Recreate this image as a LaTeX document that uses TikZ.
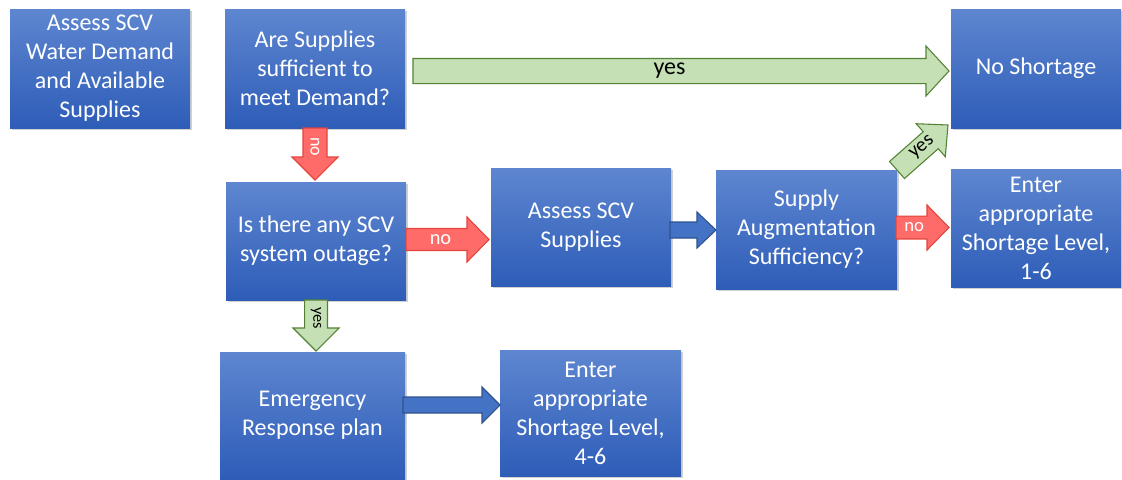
\documentclass[tikz,border=0pt]{standalone}
\usepackage{fontspec}
\setmainfont{Carlito}
\usetikzlibrary{
  calc,
  shadows,
}
\definecolor{boxtop}{RGB}{94,134,208}
\definecolor{boxbot}{RGB}{46,93,184}
\definecolor{grnfill}{RGB}{197,224,180}
\definecolor{grnline}{RGB}{84,130,53}
\definecolor{redfill}{RGB}{255,107,104}
\definecolor{redline}{RGB}{226,68,60}
\definecolor{blufill}{RGB}{68,114,196}
\definecolor{bluline}{RGB}{47,82,143}

% block arrow: style, start, tip, shaft half width, head half width, head length, label opts, label
\newcommand\blkarrow[8]{%
  \coordinate (ba-s) at #2;
  \coordinate (ba-t) at #3;
  \coordinate (ba-h) at ($(ba-t)!#6!(ba-s)$);
  \draw[#1] ($(ba-s)!#4!90:(ba-t)$) -- ($(ba-h)!#4!-90:(ba-s)$)
    -- ($(ba-h)!#5!-90:(ba-s)$) -- (ba-t) -- ($(ba-h)!#5!90:(ba-s)$)
    -- ($(ba-h)!#4!90:(ba-s)$) -- ($(ba-s)!#4!-90:(ba-t)$) -- cycle;
  \path (ba-s) -- (ba-h) node[midway,#7] {#8};
}

\begin{document}
\begin{tikzpicture}[x=.75pt,y=-.75pt,
  box/.style={rectangle,inner sep=0pt,outer sep=0pt,align=center,
    text=white,top color=boxtop,bottom color=boxbot,
    minimum width=135pt,minimum height=89.25pt,
    font=\fontsize{18}{21.75}\selectfont,
    drop shadow={shadow xshift=1.2pt,shadow yshift=-1.2pt,
      fill=black!40,opacity=.45}},
  grn/.style={fill=grnfill,draw=grnline,line width=.8pt},
  red/.style={fill=redfill,draw=redline,line width=.8pt},
  blu/.style={fill=blufill,draw=bluline,line width=.8pt},
  blk/.style={text=black,inner sep=0pt},
  wht/.style={text=white,inner sep=0pt}]
  \useasboundingbox (0,0) rectangle (1122,479);
  %% boxes
  \node[box](dem) at (100,68.5)
      {Assess SCV\\Water Demand\\and Available\\Supplies};
  \node[box](suf) at (315,68.5)
      {Are Supplies\\sufficient to\\meet Demand?};
  \node[box,minimum width=127.5pt](nosh) at (1036,68.5) {No Shortage};
  \node[box,minimum height=88.5pt](outage) at (316,241)
      {Is there any SCV\\system outage?};
  \node[box,minimum height=88.5pt](asup) at (581,227)
      {Assess SCV\\Supplies};
  \node[box,minimum width=135.75pt](aug) at (806.5,229.5)
      {Supply\\Augmentation\\Sufficiency?};
  \node[box,minimum width=127.5pt,minimum height=88.5pt](lvl16) at (1036,228)
      {Enter\\appropriate\\Shortage Level,\\1-6};
  \node[box,minimum width=138.75pt,minimum height=95.25pt](emer) at (312.5,415.5)
      {Emergency\\Response plan};
  \node[box,minimum width=135.75pt,minimum height=94.5pt](lvl46) at (590.5,413)
      {Enter\\appropriate\\Shortage Level,\\4-6};
  %% arrows
  \blkarrow{grn}{($(suf.east)+(8,2.5)$)}{($(nosh.west)+(-2,2.5)$)}
    {9.4pt}{18.75pt}{17.25pt}{blk,font=\fontsize{18}{20}\selectfont}{yes}
  \blkarrow{red}{(suf.south)}{($(suf.south|-outage.north)+(0,-2)$)}
    {9pt}{17.25pt}{17.25pt}{wht,pos=.65,rotate=-90,font=\fontsize{13.5}{15}\selectfont}{no}
  \blkarrow{red}{($(outage.east)+(0,-1.5)$)}{($(outage.east-|asup.west)+(-2,-1.5)$)}
    {8.25pt}{16.9pt}{16.5pt}{wht,xshift=3pt,font=\fontsize{15.3}{17}\selectfont}{no}
  \blkarrow{blu}{($(asup.east|-aug.west)+(-1,0.5)$)}{($(aug.west)+(0,0.5)$)}
    {6pt}{13.5pt}{14.25pt}{}{}
  \blkarrow{grn}{(aug.north east)}{($(nosh.south west)+(-3,-3)$)}
    {8.5pt}{16.5pt}{17.25pt}{blk,pos=.75,rotate=40,font=\fontsize{15}{17}\selectfont}{yes}
  \blkarrow{red}{($(aug.east)+(-1,-2)$)}{($(aug.east-|lvl16.west)+(-2,-2)$)}
    {8.6pt}{16.9pt}{16.5pt}{wht,xshift=2pt,font=\fontsize{14}{16}\selectfont}{no}
  \blkarrow{grn}{(outage.south)}{($(outage.south|-emer.north)+(0,-1)$)}
    {8.6pt}{17.25pt}{17.25pt}{blk,pos=.65,rotate=-90,font=\fontsize{12.2}{14}\selectfont}{yes}
  \coordinate(ER) at ($(emer.east)+(-2,-10.5)$);
  \blkarrow{blu}{(ER)}{(ER-|lvl46.west)}
    {6pt}{13.5pt}{13.5pt}{}{}
\end{tikzpicture}
\end{document}
